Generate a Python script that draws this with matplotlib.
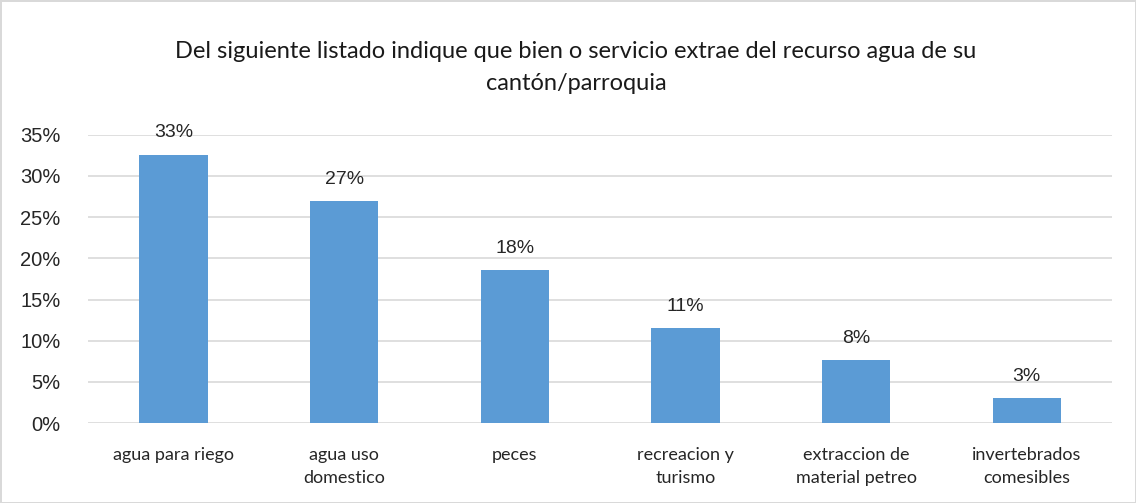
import matplotlib
matplotlib.use('Agg')
import matplotlib.pyplot as plt
from matplotlib.ticker import PercentFormatter

# categories and shares
categories = ['agua para riego', 'agua uso\ndomestico', 'peces',
              'recreacion y\nturismo', 'extraccion de\nmaterial petreo',
              'invertebrados\ncomesibles']
shares = [0.326, 0.270, 0.186, 0.115, 0.076, 0.030]
labels = ['33%', '27%', '18%', '11%', '8%', '3%']

fig = plt.figure(figsize=(11.36, 5.03), dpi=100)
fig.patch.set_edgecolor('#d9d9d9')
fig.patch.set_linewidth(2)

ax = fig.add_axes([0.0775, 0.159, 0.9015, 0.573])
x = range(len(categories))
bars = ax.bar(x, shares, width=0.4, color='#5b9bd5', zorder=3)

for b, lab in zip(bars, labels):
    ax.text(b.get_x() + b.get_width() / 2, b.get_height() + 0.016, lab,
            ha='center', va='bottom', fontsize=14, family='Liberation Sans',
            color='#262626')

ax.set_xlim(-0.5, len(categories) - 0.5)
ax.set_ylim(0, 0.35)
ax.set_yticks([i * 0.05 for i in range(8)])
ax.yaxis.set_major_formatter(PercentFormatter(1.0, decimals=0))
ax.grid(axis='y', color='#d9d9d9', linewidth=1.2, zorder=0)
for s in ax.spines.values():
    s.set_visible(False)
ax.tick_params(length=0)
ax.tick_params(axis='y', pad=20, labelsize=14.5, labelcolor='#262626')
ax.set_xticks(list(x))
ax.set_xticklabels(categories, fontsize=13, family='Lato', color='#262626',
                   linespacing=1.55)
ax.tick_params(axis='x', pad=17)
for t in ax.get_yticklabels():
    t.set_family('Liberation Sans')

fig.text(0.507, 0.866, 'Del siguiente listado indique que bien o servicio extrae del recurso agua de su\ncantón/parroquia',
         ha='center', va='center', fontsize=17, family='Lato',
         color='#1a1a1a', linespacing=1.6)

fig.savefig('out.png', dpi=100)
